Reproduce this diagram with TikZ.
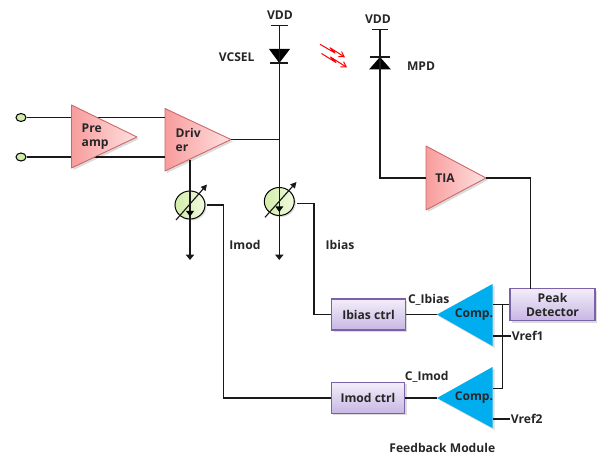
\documentclass[tikz,border=0pt]{standalone}
\usepackage{fontspec}
\setmainfont{Open Sans}
\usetikzlibrary{arrows.meta,calc,shapes.geometric}
\definecolor{tribd}{HTML}{C96A6A}
\definecolor{trile}{HTML}{F89C9C}
\definecolor{trird}{HTML}{FFE0E0}
\definecolor{compc}{HTML}{00AEEF}
\definecolor{boxbd}{HTML}{7B62A8}
\definecolor{boxtop}{HTML}{F3EEFA}
\definecolor{boxbot}{HTML}{C8B6E4}
\definecolor{srcl}{HTML}{D2EDA8}
\definecolor{srcd}{HTML}{F2FAE0}
\tikzset{
  wire/.style={line width=1.15pt,black!90},
  txt/.style={font=\bfseries\fontsize{12.1}{13}\selectfont,text=black!85,inner sep=0pt},
  ctrlbox/.style={draw=boxbd,line width=1.1pt,top color=boxtop,bottom color=boxbot,minimum height=31pt,inner sep=0pt,align=center,font=\bfseries\fontsize{12.1}{14}\selectfont,text=black!85},
  shadowbit/.style={fill=black,opacity=0.14},
  termin/.style={draw=black,line width=1pt,fill=srcl,ellipse,minimum width=10pt,minimum height=8pt,inner sep=0pt},
  headdown/.style={-{Triangle[width=8.5pt,length=5.5pt]}},
  ray/.style={red,line width=1pt,-{Straight Barb[length=5pt,width=6pt]}}
}
% name, x base, y top, y bottom, x tip, y tip
\newcommand{\ampcoords}[6]{%
  \coordinate (#1a) at (#2,#3);
  \coordinate (#1b) at (#2,#4);
  \coordinate (#1t) at (#5,#6);}
\newcommand{\ampshadow}[1]{%
  \fill[shadowbit] ($(#1a)+(2,2)$) -- ($(#1t)+(2,2)$) -- ($(#1b)+(2,2)$) -- cycle;}
\newcommand{\pinkamp}[1]{%
  \ampshadow{#1}
  \draw[tribd,line width=0.9pt,left color=trile,right color=trird,line join=round] (#1a) -- (#1t) -- (#1b) -- cycle;}
\newcommand{\blueamp}[1]{%
  \ampshadow{#1}
  \fill[compc] (#1a) -- (#1t) -- (#1b) -- cycle;}
\newcommand{\currsrc}[1]{%
  \fill[shadowbit] ($(#1)+(1.5,1.5)$) ellipse (15 and 14);
  \draw[black,line width=1pt,left color=srcl,right color=srcd] (#1) ellipse (15 and 14);}
\begin{document}
\begin{tikzpicture}[x=1pt,y=-1pt]
\useasboundingbox (0,0) rectangle (597,457);
\ampcoords{pre}{71.5}{105}{168}{137}{137}
\ampcoords{drv}{165}{108.5}{171}{231}{139.5}
\ampcoords{tia}{426}{146}{210}{486}{178}
\ampcoords{cpa}{492.5}{284}{346}{437}{314.5}
\ampcoords{cpb}{492.5}{367}{428}{437}{398}
\coordinate (s1) at (190,205);
\coordinate (s2) at (279.3,201.5);

% terminals
\node[termin] (in1) at (21,117.5) {};
\node[termin] (in2) at (21,157) {};

% wires behind amplifiers
\coordinate (dup) at (165,117.5);
\coordinate (dlo) at (165,157);
\draw[wire] (in1) -- (dup);
\draw[wire] (in2) -- (dlo);

\pinkamp{pre}
\pinkamp{drv}
\pinkamp{tia}
\blueamp{cpa}
\blueamp{cpb}
\draw[wire] (99,117.5) -- (dup);
\draw[wire] (96,157) -- (dlo);

% boxes
\fill[shadowbit] (333.5,301) rectangle (407,332);
\fill[shadowbit] (333,384) rectangle (406.5,415);
\fill[shadowbit] (512,291) rectangle (597,323);
\node[ctrlbox,minimum width=73.5pt] (ib) at (368.5,314.5) {Ibias ctrl};
\node[ctrlbox,minimum width=73.5pt] (im) at (368,398) {Imod ctrl};
\node[ctrlbox,minimum width=85pt,minimum height=32pt] (pk) at (552.5,304.5) {Peak\\Detector};

% text on amplifiers
\node[txt,anchor=west,align=left,font=\bfseries\fontsize{12.1}{14}\selectfont] (tpre) at (81.5,137) {Pre\\amp};
\node[txt,anchor=west,align=left,font=\bfseries\fontsize{12.1}{14}\selectfont] (tdrv) at (175.5,140) {Driv\\er};
\node[txt] (ttia) at (445,178) {TIA};
\node[txt] (tc1) at (474,315) {Comp.};
\node[txt] (tc2) at (474,398) {Comp.};

% VCSEL branch
\coordinate (vt1) at (279.3,25.7);
\coordinate (vb1) at (279.3,260);
\coordinate (vd1) at (279.3,63);
\coordinate (vj) at (279.3,139.5);
\draw[wire] ($(vt1)+(-8.5,0)$) -- ($(vt1)+(8.5,0)$);
\draw[wire] ($(vd1)+(-9,0)$) -- ($(vd1)+(9,0)$);
\fill[black] (269,49) -- (290,49) -- (vd1) -- cycle;
\draw[wire] (vt1) -- (vd1);
\draw[wire] (drvt) -- (vj);
\currsrc{s2}
\draw[wire,headdown] (vd1) -- (vb1);
\fill[black] (275.3,206.5) -- (283.3,206.5) -- (279.3,212) -- cycle;
\draw[wire,-{Triangle[width=6pt,length=6pt]}] (265,217.3) -- (296.5,182);

% Imod branch
\coordinate (d1) at (190,160.5);
\coordinate (vb2) at (190,260);
\currsrc{s1}
\draw[wire,headdown] (d1) -- (vb2);
\fill[black] (186,211) -- (194,211) -- (190,216.5) -- cycle;
\draw[wire,-{Triangle[width=6pt,length=6pt]}] (176,220) -- (207,184.5);

% control wires
\draw[wire] (206.5,205) -- (223.3,205) -- (223.3,398) -- (im.west);
\draw[wire] (297.3,203.5) -- (314,203.5) -- (314,314.5) -- (ib.west);
\draw[wire] (ib.east) -- (cpat);
\draw[wire] (im.east) -- (cpbt);

% MPD branch
\coordinate (vt3) at (380,29.3);
\coordinate (vd3) at (380,57);
\coordinate (vc3) at (380,178);
\coordinate (tiain) at (426,178);
\draw[wire] ($(vt3)+(-8,0)$) -- ($(vt3)+(8,0)$);
\draw[wire] ($(vd3)+(-10,0)$) -- ($(vd3)+(10,0)$);
\draw[wire] (vt3) -- (vd3);
\fill[black] (vd3) -- (391,69.5) -- (369,69.5) -- cycle;
\draw[wire] (vd3) -- (vc3) -- (tiain);
\coordinate (pktop) at (530.7,288.5);
\draw[wire] (tiat) -- (530.7,178) -- (pktop);

% feedback wires
\coordinate (v1) at (511,336);
\coordinate (v2) at (510,419);
\coordinate (cpin) at (492.5,304.5);
\draw[wire] (pk.west) -- (cpin);
\draw[wire] (502.3,304.5) -- (502.3,388.3) -- (492.5,388.3);
\draw[wire] (492.5,336) -- (v1);
\draw[wire] (492.5,419) -- (v2);

% light rays
\draw[ray,line join=round] (320,44.3) -- (335,53) -- (330,47.7) -- (345,57.3);
\draw[ray,line join=round] (321.5,53.5) -- (336,62.5) -- (330.5,57) -- (347,67.5);

% labels
\node[txt] (lv1) at (280,15.5) {VDD};
\node[txt] (lv2) at (378,19) {VDD};
\node[txt] (lvc) at (236.7,57) {VCSEL};
\node[txt] (lmp) at (421,66) {MPD};
\node[txt] (lim) at (245,245) {Imod};
\node[txt] (lib) at (340,244.5) {Ibias};
\node[txt] (lci) at (428.7,300) {C\_Ibias};
\node[txt] (lcm) at (426.7,376.5) {C\_Imod};
\node[txt,anchor=west] (lr1) at (511.7,336) {Vref1};
\node[txt,anchor=west] (lr2) at (510.7,419) {Vref2};
\node[txt] (lfb) at (442.3,448) {Feedback Module};
\end{tikzpicture}
\end{document}
